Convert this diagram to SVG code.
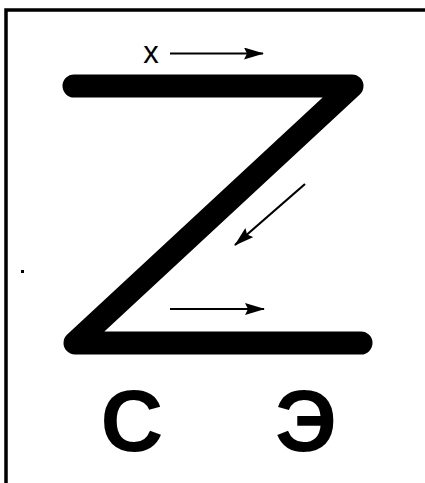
<svg xmlns="http://www.w3.org/2000/svg" width="425" height="483" viewBox="0 0 425 483">
<style>
.frame{fill:none;stroke:#000;stroke-width:3.5}
.z{fill:none;stroke:#000;stroke-width:23;stroke-linecap:round;stroke-linejoin:round}
.arr{fill:none;stroke:#000;stroke-width:2.2}
.lbl{font-family:"Liberation Sans",Arial,sans-serif;font-weight:bold;fill:#000}
.x{font-family:"Liberation Sans",Arial,sans-serif;fill:#000}
</style>
<defs>
<marker id="ahl" markerWidth="20" markerHeight="12" refX="19" refY="6" orient="auto" markerUnits="userSpaceOnUse" viewBox="0 0 20 12">
<path d="M0,0 L20,6 L0,12 L3,6 Z" fill="#000"/>
</marker>
</defs>
<rect width="425" height="483" fill="#fff"/>
<g id="frame">
<path class="frame" d="M6,483 L6,10 L425,10"/>
<rect x="21" y="270" width="3" height="3" fill="#000"/>
</g>
<g id="letterZ">
<path class="z" d="M74,86 L352,86 L75,343 L361,343"/>
</g>
<g id="connectors">
<path class="arr" d="M170,53.5 L263,53.5" marker-end="url(#ahl)"/>
<path class="arr" d="M305,184 L235,245" marker-end="url(#ahl)"/>
<path class="arr" d="M170,309 L264,309" marker-end="url(#ahl)"/>
</g>
<g id="label-x">
<text class="x" x="151" y="63" font-size="31" text-anchor="middle">x</text>
</g>
<g id="label-S">
<text class="lbl" x="132" y="451" font-size="87" text-anchor="middle">С</text>
</g>
<g id="label-E">
<text class="lbl" x="306" y="451" font-size="87" text-anchor="middle">Э</text>
</g>
</svg>
